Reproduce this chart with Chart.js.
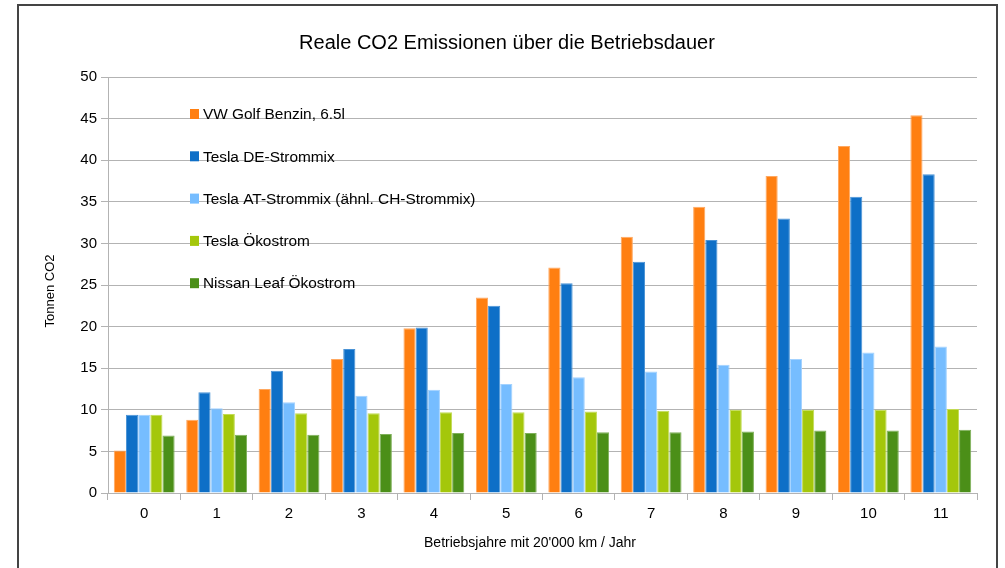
<!DOCTYPE html>
<html>
<head>
<meta charset="utf-8">
<title>Reale CO2 Emissionen</title>
<script src="https://cdn.jsdelivr.net/npm/chart.js@4/dist/chart.umd.min.js"></script>
<style>
  body { margin: 0; background: #fff; }
  #wrap { width: 1005px; height: 568px; }
</style>
</head>
<body>
<div id="wrap"><canvas id="myChart" width="1005" height="568"></canvas></div>
<script>
// Chart data
var years = ["0", "1", "2", "3", "4", "5", "6", "7", "8", "9", "10", "11"];
var golfBenzin = [5.1, 8.8, 12.5, 16.1, 19.8, 23.5, 27.1, 30.8, 34.4, 38.1, 41.7, 45.4];
var teslaDE = [9.4, 12.1, 14.7, 17.3, 19.9, 22.5, 25.2, 27.8, 30.4, 33.0, 35.6, 38.3];
var teslaAT = [9.4, 10.2, 10.9, 11.7, 12.4, 13.1, 13.9, 14.6, 15.4, 16.1, 16.9, 17.6];
var teslaOeko = [9.4, 9.5, 9.6, 9.6, 9.7, 9.7, 9.8, 9.9, 10.0, 10.0, 10.0, 10.1];
var nissanOeko = [6.9, 7.0, 7.0, 7.1, 7.2, 7.2, 7.3, 7.3, 7.4, 7.5, 7.5, 7.6];
var yTicks = [0, 5, 10, 15, 20, 25, 30, 35, 40, 45, 50];
var xTitle = "Betriebsjahre mit 20'000 km / Jahr";
var yTitle = "Tonnen CO2";

var gridGray = "#b3b3b3";
var fontFamily = "'Liberation Sans', Arial, sans-serif";

function makeSet(label, values, color, edge) {
  return {
    label: label,
    data: values,
    backgroundColor: color,
    borderColor: edge,
    borderWidth: 1,
    categoryPercentage: 0.84,
    barPercentage: 1.0
  };
}

// frame round the whole picture
var framePlugin = {
  id: "frame",
  beforeDraw: function (chart) {
    var ctx = chart.ctx;
    ctx.save();
    ctx.fillStyle = "#fff";
    ctx.fillRect(0, 0, chart.width, chart.height);
    ctx.strokeStyle = "#444";
    ctx.lineWidth = 2;
    ctx.beginPath();
    ctx.moveTo(18, chart.height);
    ctx.lineTo(18, 5);
    ctx.lineTo(997, 5);
    ctx.lineTo(997, chart.height);
    ctx.stroke();
    ctx.restore();
  }
};

// legend inside the plot + axis titles
var textPlugin = {
  id: "innerLegend",
  afterDatasetsDraw: function (chart) {
    var ctx = chart.ctx;
    ctx.save();
    ctx.font = "15.4px " + fontFamily;
    ctx.textBaseline = "middle";
    chart.data.datasets.forEach(function (ds, i) {
      var y = 114 + i * 42.3;
      ctx.fillStyle = ds.backgroundColor;
      ctx.fillRect(190, y - 5, 9, 10);
      ctx.fillStyle = "#000";
      ctx.fillText(ds.label, 203, y + 1);
    });

    ctx.font = "14px " + fontFamily;
    ctx.textAlign = "center";
    ctx.fillText(xTitle, 530, 543);

    ctx.font = "13px " + fontFamily;
    ctx.translate(50, 291);
    ctx.rotate(-Math.PI / 2);
    ctx.fillText(yTitle, 0, 0);
    ctx.restore();
  }
};

var myChart = new Chart(document.getElementById("myChart").getContext("2d"), {
  type: "bar",
  data: {
    labels: years,
    datasets: [
      makeSet("VW Golf Benzin, 6.5l", golfBenzin, "#ff7f11", "#ffa860"),
      makeSet("Tesla DE-Strommix", teslaDE, "#0e6fc7", "#4a93d6"),
      makeSet("Tesla AT-Strommix (ähnl. CH-Strommix)", teslaAT, "#76bdff", "#a3d2ff"),
      makeSet("Tesla Ökostrom", teslaOeko, "#a4c70b", "#c2db55"),
      makeSet("Nissan Leaf Ökostrom", nissanOeko, "#4b8f18", "#7fb05a")
    ]
  },
  options: {
    responsive: false,
    animation: false,
    layout: { padding: { left: 37, right: 28, top: 0, bottom: 0 } },
    plugins: {
      legend: { display: false },
      tooltip: { enabled: false },
      title: {
        display: true,
        text: "Reale CO2 Emissionen über die Betriebsdauer",
        color: "#000",
        font: { family: fontFamily, size: 20, weight: "normal" },
        padding: { top: 31, bottom: 22 }
      }
    },
    scales: {
      x: {
        grid: {
          offset: true,
          drawOnChartArea: true,
          color: function (c) { return c.index === years.length ? gridGray : "transparent"; },
          tickColor: gridGray,
          tickLength: 7
        },
        border: { color: gridGray },
        ticks: { color: "#000", padding: 5, font: { family: fontFamily, size: 15 } },
        afterFit: function (scale) { scale.height = 75; }
      },
      y: {
        min: 0,
        max: 50,
        afterBuildTicks: function (scale) {
          scale.ticks = yTicks.map(function (v) { return { value: v }; });
        },
        grid: { color: gridGray, tickColor: gridGray, tickLength: 7 },
        border: { color: gridGray },
        ticks: { color: "#000", padding: 4, font: { family: fontFamily, size: 15 } },
        afterFit: function (scale) { scale.width = 71; }
      }
    }
  },
  plugins: [framePlugin, textPlugin]
});
</script>
</body>
</html>
